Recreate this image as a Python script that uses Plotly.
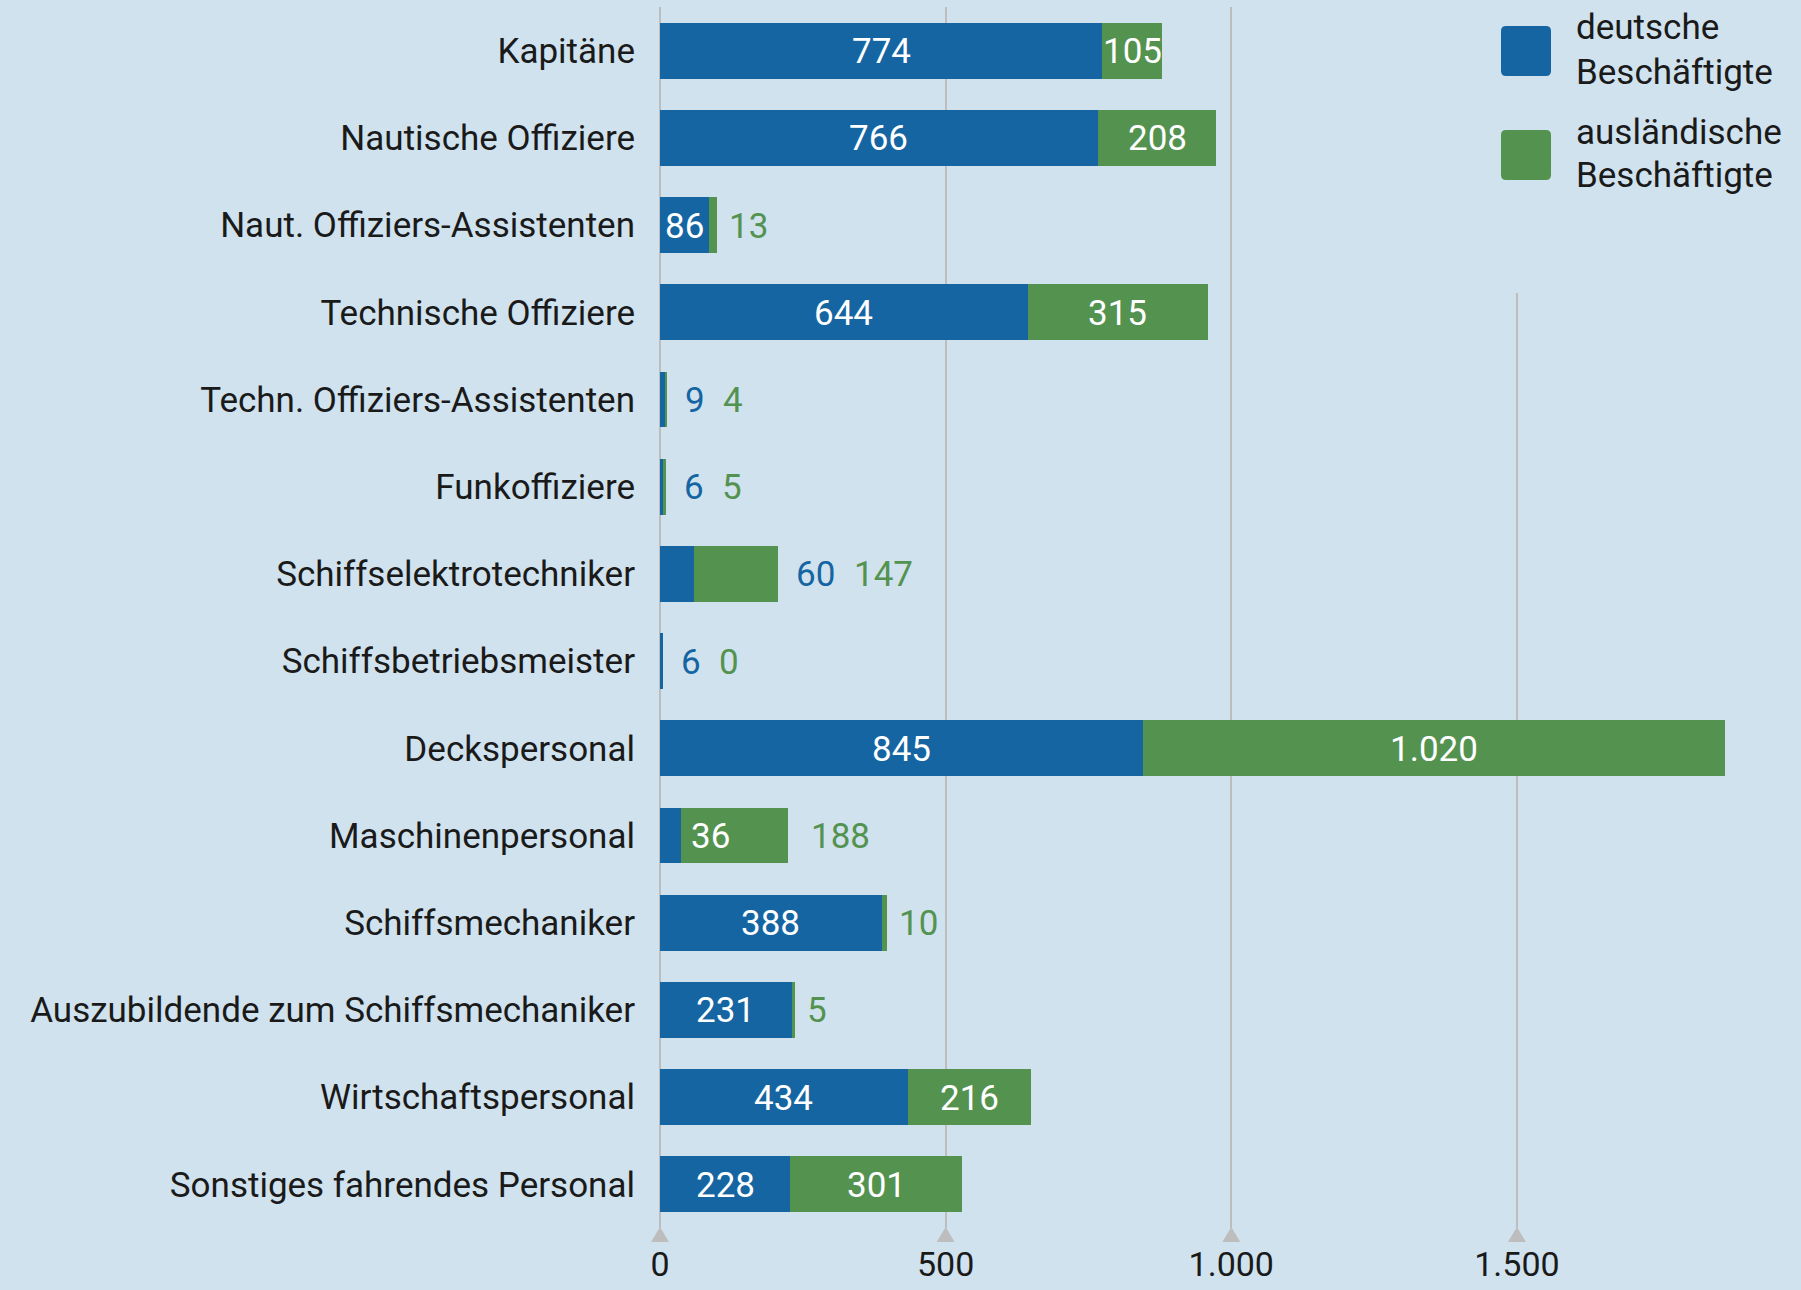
import plotly.graph_objects as go

categories = [
    "Kapitäne",
    "Nautische Offiziere",
    "Naut. Offiziers-Assistenten",
    "Technische Offiziere",
    "Techn. Offiziers-Assistenten",
    "Funkoffiziere",
    "Schiffselektrotechniker",
    "Schiffsbetriebsmeister",
    "Deckspersonal",
    "Maschinenpersonal",
    "Schiffsmechaniker",
    "Auszubildende zum Schiffsmechaniker",
    "Wirtschaftspersonal",
    "Sonstiges fahrendes Personal",
]
deutsche = [774, 766, 86, 644, 9, 6, 60, 6, 845, 36, 388, 231, 434, 228]
auslaendische = [105, 208, 13, 315, 4, 5, 147, 0, 1020, 188, 10, 5, 216, 301]
series_names = [["deutsche", "Beschäftigte"], ["ausländische", "Beschäftigte"]]
tick_values = [0, 500, 1000, 1500]
tick_labels = ["0", "500", "1.000", "1.500"]

BLUE = "#1565a2"
GREEN = "#549250"
BG = "#d0e2ee"
GRID = "#bdbdbd"
TXT = "#1a1a1a"
FONT = "Roboto"
FS = 35

W, H = 1801, 1290
ML, MR, MT, MB = 660, 27, 7, 62
XMAX = 1950
PW = W - ML - MR
PH = H - MT - MB
PXU = PW / XMAX  # pixels per unit


def px_x(px):
    return (px - ML) / PW


def px_y(py):
    return (H - MB - py) / PH


def fmt(v):
    return f"{v:,}".replace(",", ".")


def text_w(s):
    return sum(9 if c == "." else 19.7 for c in s)


fig = go.Figure()
fig.add_trace(go.Bar(y=categories, x=deutsche, orientation="h", marker=dict(color=BLUE, line=dict(width=0)),
                     name="deutsche Beschäftigte", hoverinfo="x+y"))
fig.add_trace(go.Bar(y=categories, x=auslaendische, orientation="h", marker=dict(color=GREEN, line=dict(width=0)),
                     name="ausländische Beschäftigte", hoverinfo="x+y"))

annotations = []


def ann(x, y, text, color, xanchor="center", xshift=0):
    annotations.append(dict(x=x, y=y, xref="x", yref="y", text=text, showarrow=False,
                            xanchor=xanchor, yanchor="middle", xshift=xshift, yshift=-1,
                            font=dict(family=FONT, size=FS, color=color)))


for cat, d, a in zip(categories, deutsche, auslaendische):
    td, ta = fmt(d), fmt(a)
    total = d + a
    d_fits = d * PXU >= text_w(td)
    if d_fits:
        ann(d / 2, cat, td, "white")
        if a * PXU >= text_w(ta) - 2:
            ann(d + a / 2, cat, ta, "white")
        else:
            ann(total, cat, ta, GREEN, "left", 10)
    elif a >= 150:
        # blue label sits at the start of the green segment
        ann(d, cat, td, "white", "left", 8)
        ann(total, cat, ta, GREEN, "left", 21)
    else:
        ann(total, cat, td, BLUE, "left", 16)
        ann(total, cat, ta, GREEN, "left", 16 + text_w(td) + 18)

shapes = []
# cover the gridline behind the legend
shapes.append(dict(type="rect", xref="paper", yref="paper", x0=px_x(1470), x1=px_x(W + 5),
                   y0=px_y(293), y1=px_y(-5), fillcolor=BG, line=dict(width=0), layer="above"))
# triangles at the bottom of gridlines
bottom = H - MB
for tv in tick_values:
    cx = ML + tv * PXU
    path = (f"M{px_x(cx - 9)},{px_y(bottom + 14)} L{px_x(cx + 9)},{px_y(bottom + 14)} "
            f"L{px_x(cx)},{px_y(bottom - 1)} Z")
    shapes.append(dict(type="path", xref="paper", yref="paper", path=path,
                       fillcolor=GRID, line=dict(width=0), layer="above"))


def rounded_rect(x0, y0, x1, y1, r):
    def P(x, y):
        return f"{px_x(x)},{px_y(y)}"
    return (f"M{P(x0 + r, y0)} L{P(x1 - r, y0)} Q{P(x1, y0)} {P(x1, y0 + r)} "
            f"L{P(x1, y1 - r)} Q{P(x1, y1)} {P(x1 - r, y1)} L{P(x0 + r, y1)} "
            f"Q{P(x0, y1)} {P(x0, y1 - r)} L{P(x0, y0 + r)} Q{P(x0, y0)} {P(x0 + r, y0)} Z")


legend_items = [(BLUE, 26, series_names[0]), (GREEN, 130, series_names[1])]
for color, top, lines in legend_items:
    shapes.append(dict(type="path", xref="paper", yref="paper",
                       path=rounded_rect(1501, top, 1551, top + 50, 5),
                       fillcolor=color, line=dict(width=0), layer="above"))
    for i, line in enumerate(lines):
        cy = top + 2 + i * 44
        annotations.append(dict(x=px_x(1574), y=px_y(cy), xref="paper", yref="paper", text=line,
                                showarrow=False, xanchor="left", yanchor="middle",
                                font=dict(family=FONT, size=FS, color=TXT)))

fig.update_layout(
    width=W, height=H,
    barmode="stack", bargap=0.36,
    paper_bgcolor=BG, plot_bgcolor=BG,
    margin=dict(l=ML, r=MR, t=MT, b=MB, pad=0, autoexpand=False),
    showlegend=False,
    separators=",.",
    font=dict(family=FONT, size=FS, color=TXT),
    xaxis=dict(range=[0, XMAX], tickvals=tick_values, ticktext=tick_labels, showgrid=True,
               gridcolor=GRID, gridwidth=2, zeroline=True, zerolinecolor=GRID, zerolinewidth=2,
               showline=False, ticks="", ticklabelstandoff=13, automargin=False,
               tickfont=dict(family=FONT, size=34, color=TXT), fixedrange=True),
    yaxis=dict(categoryorder="array", categoryarray=categories, autorange="reversed",
               showgrid=False, zeroline=False, showline=False, ticks="", ticklabelstandoff=24,
               automargin=False,
               tickfont=dict(family=FONT, size=FS, color=TXT), fixedrange=True),
    annotations=annotations,
    shapes=shapes,
)

fig.write_html("out.html", config={"displayModeBar": False},
               post_script="document.body.style.margin='0';document.body.style.overflow='hidden';")
